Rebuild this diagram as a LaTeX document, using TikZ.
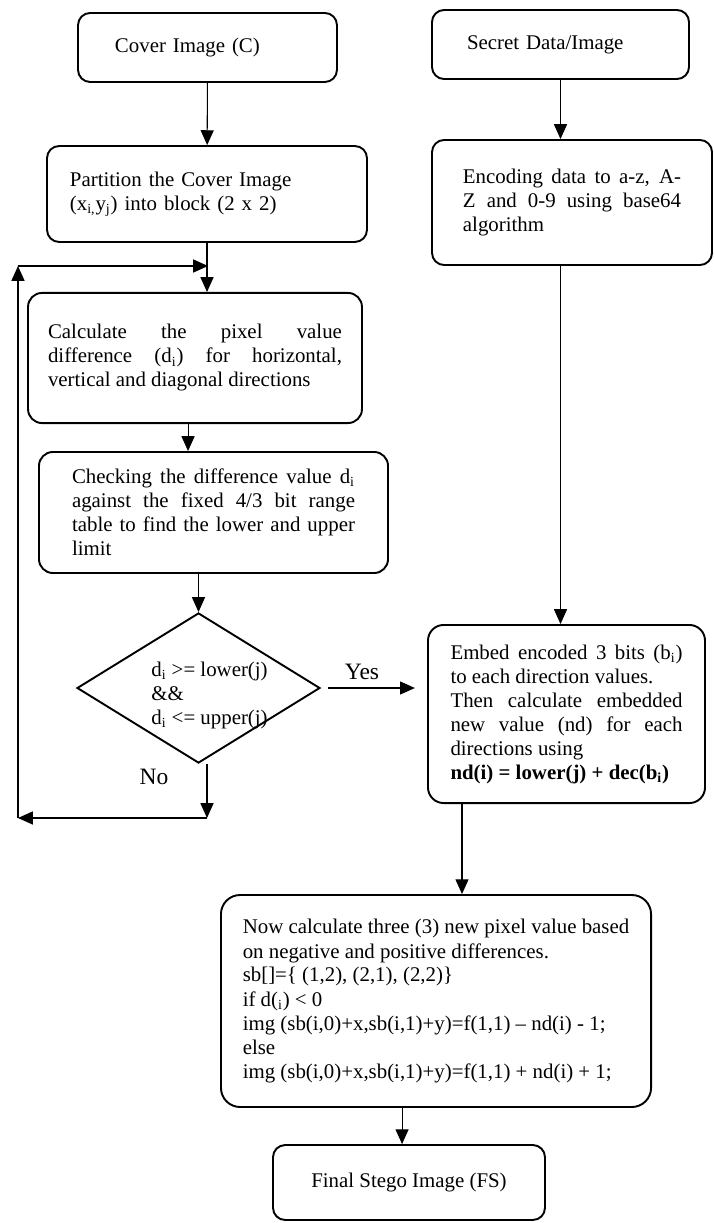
\documentclass[tikz,border=0pt]{standalone}
\usepackage{fontspec}
\setmainfont{Liberation Serif}
\usetikzlibrary{arrows.meta,shapes.geometric}

\begin{document}
\begin{tikzpicture}[x=0.575pt,y=-0.575pt,font=\fontsize{12}{13.8}\selectfont,
  box/.style={draw,line width=1.1pt,rounded corners=7pt,inner sep=0pt},
  arr/.style={line width=0.6pt,-{Triangle[length=8.5pt,width=7.5pt]}},
  lbl/.style={font=\fontsize{13.5}{15}\selectfont,inner sep=0pt}]
\useasboundingbox (0,0) rectangle (714,1223);
\node[box,minimum width=148.9pt,minimum height=39.7pt,text width=106.4pt,align=left] (cover) at (207.5,47.5) {Cover Image (C)};
\node[box,minimum width=147.8pt,minimum height=39.7pt,text width=107.5pt,align=left] (secret) at (560.5,44.5) {Secret Data/Image};
\node[box,minimum width=184pt,minimum height=55.2pt,text width=157.6pt,align=left] (part) at (207,194) {Partition the Cover Image\\(x\textsubscript{i,}y\textsubscript{j}) into block (2 x 2)};
\node[box,minimum width=161pt,minimum height=71.9pt,text width=125.4pt,align=justify] (encode) at (572,202.5) {Encoding data to a-z, A-\linebreak Z and 0-9 using base64\linebreak algorithm};
\node[box,rounded corners=8pt,minimum width=192pt,minimum height=74.8pt,text width=169pt,align=justify] (calc) at (195,358) {\rightskip=9.8pt Calculate the pixel value\linebreak difference (d\textsubscript{i}) for horizontal,\linebreak vertical and diagonal directions};
\node[box,rounded corners=8pt,minimum width=200.7pt,minimum height=69.6pt,text width=162.7pt,align=justify] (check) at (213.5,512.5) {Checking the difference value d\textsubscript{i}\linebreak against the fixed 4/3 bit range\linebreak table to find the lower and upper\linebreak limit};
\node[draw,diamond,line width=1.1pt,minimum width=139.7pt,minimum height=86.3pt,inner sep=0pt] (cond) at (198.5,688) {};
\node[anchor=west,align=left,inner sep=0pt] (condtxt) at (151,695) {d\textsubscript{i} >= lower(j)\\\&\&\\d\textsubscript{i} <= upper(j)};
\node[box,rounded corners=9pt,minimum width=159.3pt,minimum height=102.4pt,text width=133.4pt,align=justify] (embed) at (566.5,714) {Embed encoded 3 bits (b\textsubscript{i})\linebreak to each direction values.\\Then calculate embedded\linebreak new value (nd) for each\linebreak directions using\\\textbf{nd(i) = lower(j) + dec(b\textsubscript{i})}};
\node[box,rounded corners=11pt,minimum width=247.3pt,minimum height=121.9pt,align=left] (newpix) at (436,1001) {Now calculate three (3) new pixel value based\\on negative and positive differences.\\sb[]=\{ (1,2), (2,1), (2,2)\}\\if d(\textsubscript{i}) < 0\\img (sb(i,0)+x,sb(i,1)+y)=f(1,1) -- nd(i) - 1;\\else\\img (sb(i,0)+x,sb(i,1)+y)=f(1,1) + nd(i) + 1;};
\node[box,minimum width=156.4pt,minimum height=43.1pt] (final) at (409,1182.5) {Final Stego Image (FS)};
\node[lbl] (yes) at (362,672) {Yes};
\node[lbl] (no) at (154,777) {No};
\coordinate (nodown) at (207,818);
\coordinate (loopbl) at (18,818);
\coordinate (looptl) at (18,266);
\coordinate (loopin) at (208,266);
\coordinate (e2n) at (462,0);
\draw[arr] (cover) -- (part);
\draw[arr] (secret.south) -- (secret.south |- encode.north);
\draw[arr] (part.south) -- (part.south |- calc.north);
\draw[arr] ([xshift=-4pt]calc.south) -- ([xshift=-4pt]calc.south |- check.north);
\draw[arr] (cond.north |- check.south) -- (cond.north);
\draw[arr,shorten <=4pt,shorten >=7pt] (cond.east) -- (cond.east -| embed.west);
\draw[arr] (secret.south |- encode.south) -- (secret.south |- embed.north);
\draw[arr] (embed.south -| e2n) -- (newpix.north -| e2n);
\draw[arr] ([xshift=-4pt]final.north |- newpix.south) -- ([xshift=-4pt]final.north);
\draw[arr] (nodown |- cond.south) -- (nodown);
\draw[arr] (nodown) -- (loopbl);
\draw[arr] (loopbl) -- (looptl);
\draw[arr] (looptl) -- (loopin);
\end{tikzpicture}
\end{document}
